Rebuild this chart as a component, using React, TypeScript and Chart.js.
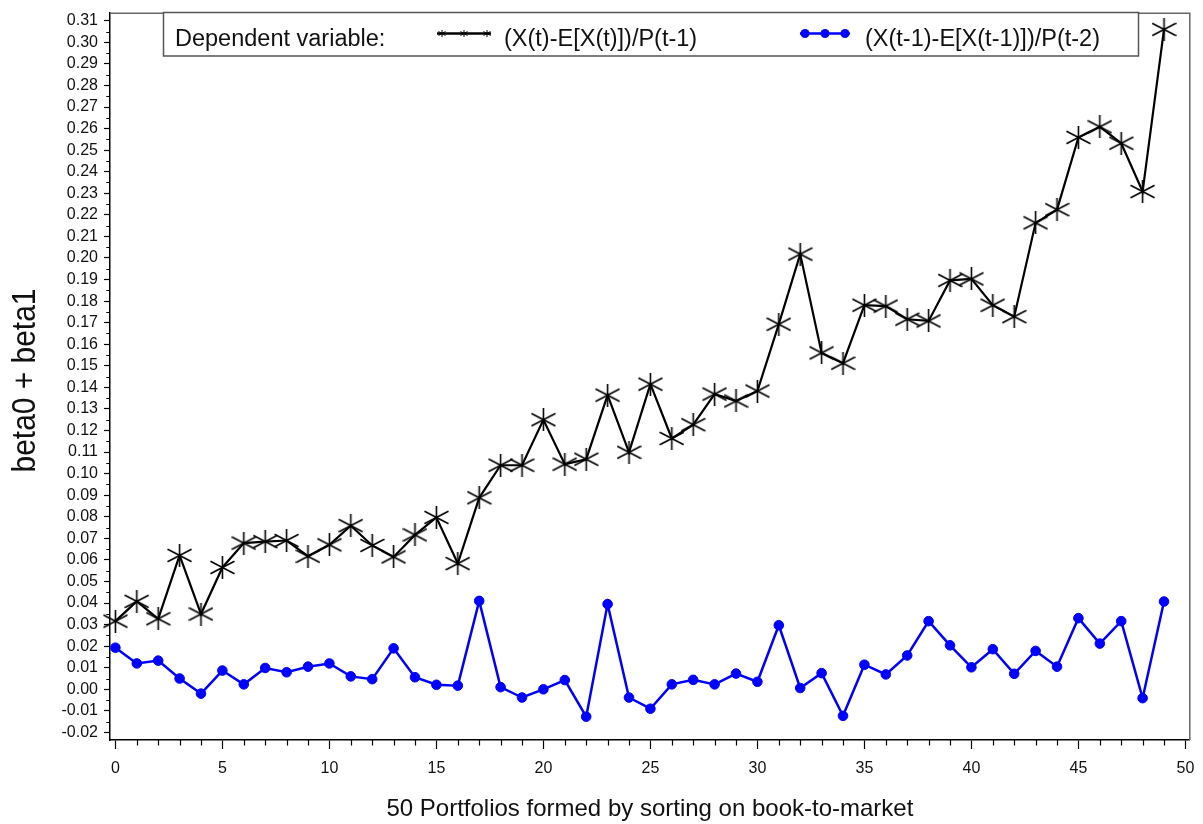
import React, { useEffect, useRef } from 'react';
import { Chart, registerables } from 'chart.js';

Chart.register(...registerables);

// 50 book-to-market portfolios
const portfolios = Array.from({ length: 50 }, (_, i) => i);

const currentLabel = '(X(t)-E[X(t)])/P(t-1)';
const laggedLabel = '(X(t-1)-E[X(t-1)])/P(t-2)';

const currentValues = [
  0.0316, 0.0408, 0.0327, 0.0621, 0.0349, 0.0565, 0.0678, 0.0685, 0.069, 0.0617,
  0.067, 0.0759, 0.0667, 0.0614, 0.0716, 0.0797, 0.0583, 0.0888, 0.1039, 0.1039,
  0.125, 0.1044, 0.1067, 0.1364, 0.1099, 0.1415, 0.1163, 0.1227, 0.1369, 0.1337,
  0.1383, 0.1693, 0.2018, 0.156, 0.1512, 0.1781, 0.1777, 0.1716, 0.1708, 0.1896,
  0.1903, 0.1781, 0.1728, 0.2163, 0.2224, 0.2559, 0.2608, 0.2532, 0.2308, 0.306,
];

const laggedValues = [
  0.0193, 0.012, 0.0133, 0.005, -0.002, 0.0087, 0.0023, 0.0099, 0.0079, 0.0105,
  0.012, 0.006, 0.0047, 0.019, 0.0056, 0.0021, 0.0017, 0.041, 0.001, -0.0038,
  0.0, 0.0043, -0.0127, 0.0395, -0.0038, -0.009, 0.0023, 0.0044, 0.0023, 0.0073,
  0.0035, 0.0297, 0.0006, 0.0075, -0.0123, 0.0114, 0.0069, 0.0157, 0.0316, 0.0204,
  0.0102, 0.0186, 0.0072, 0.0178, 0.0105, 0.033, 0.0212, 0.0316, -0.0041, 0.0407,
];

const xTicks = [0, 5, 10, 15, 20, 25, 30, 35, 40, 45, 50];
const yTicks = Array.from({ length: 34 }, (_, i) => Math.round((-0.02 + i * 0.01) * 100) / 100);

const xTitle = '50 Portfolios formed by sorting on book-to-market';
const yTitle = 'beta0 + beta1';
const legendTitle = 'Dependent variable:';

const FONT = '"Liberation Sans", Arial, Helvetica, sans-serif';

function makeAsterisk(w: number, h: number, lw: number) {
  const c = document.createElement('canvas');
  c.width = w;
  c.height = h;
  const ctx = c.getContext('2d')!;
  ctx.strokeStyle = '#000';
  ctx.lineWidth = lw;
  ctx.beginPath();
  ctx.moveTo(w / 2, 0);
  ctx.lineTo(w / 2, h);
  ctx.moveTo(0.5, h * 0.23);
  ctx.lineTo(w - 0.5, h * 0.77);
  ctx.moveTo(0.5, h * 0.77);
  ctx.lineTo(w - 0.5, h * 0.23);
  ctx.stroke();
  return c;
}

const App = () => {
  const chartRef = useRef<HTMLCanvasElement | null>(null);

  useEffect(() => {
    if (!chartRef.current) return;
    const star = makeAsterisk(25, 23, 1.6);

    const decorations = {
      id: 'decorations',
      beforeDatasetsDraw(chart: any) {
        const { ctx, chartArea: a } = chart;
        ctx.save();
        ctx.strokeStyle = '#666';
        ctx.lineWidth = 1.5;
        ctx.beginPath();
        ctx.moveTo(a.left, a.top);
        ctx.lineTo(a.right, a.top);
        ctx.lineTo(a.right, a.bottom);
        ctx.stroke();

        // minor ticks
        const xs = chart.scales.x;
        const ys = chart.scales.y;
        ctx.strokeStyle = '#000';
        ctx.lineWidth = 1.2;
        ctx.beginPath();
        for (let i = 0; i <= 50; i++) {
          if (i % 5 === 0) continue;
          const px = Math.round(xs.getPixelForValue(i)) + 0.5;
          ctx.moveTo(px, a.bottom);
          ctx.lineTo(px, a.bottom + 5.5);
        }
        for (let k = -3; k <= 61; k += 2) {
          const v = k * 0.005;
          if (v < ys.min || v > ys.max) continue;
          const py = Math.round(ys.getPixelForValue(v)) + 0.5;
          ctx.moveTo(a.left, py);
          ctx.lineTo(a.left - 3.7, py);
        }
        ctx.stroke();
        ctx.restore();
      },
      afterDraw(chart: any) {
        const { ctx, chartArea: a } = chart;
        ctx.save();
        ctx.fillStyle = '#111';

        // axis titles
        ctx.font = `24px ${FONT}`;
        ctx.textAlign = 'center';
        ctx.textBaseline = 'alphabetic';
        ctx.fillText(xTitle, (a.left + a.right) / 2, 816);

        ctx.save();
        ctx.translate(35, 380.5);
        ctx.rotate(-Math.PI / 2);
        ctx.scale(0.88, 1);
        ctx.font = `34px ${FONT}`;
        ctx.fillText(yTitle, 0, 0);
        ctx.restore();

        // legend box
        ctx.fillStyle = '#fff';
        ctx.fillRect(163, 12, 976, 44);
        ctx.strokeStyle = '#555';
        ctx.lineWidth = 1.5;
        ctx.strokeRect(163.5, 12.5, 975, 43.5);

        ctx.fillStyle = '#111';
        ctx.font = `23.5px ${FONT}`;
        ctx.textAlign = 'left';
        ctx.fillText(legendTitle, 175, 45.5);

        const ly = 33.5;
        ctx.strokeStyle = '#000';
        ctx.lineWidth = 2.7;
        ctx.beginPath();
        ctx.moveTo(437, ly);
        ctx.lineTo(491, ly);
        ctx.stroke();
        ctx.lineWidth = 1;
        [442, 464, 487].forEach((cx) => {
          ctx.beginPath();
          ctx.moveTo(cx, ly - 3.5);
          ctx.lineTo(cx, ly + 3.5);
          ctx.moveTo(cx - 3.5, ly - 2);
          ctx.lineTo(cx + 3.5, ly + 2);
          ctx.moveTo(cx - 3.5, ly + 2);
          ctx.lineTo(cx + 3.5, ly - 2);
          ctx.stroke();
        });
        ctx.fillText(currentLabel, 504, 45.5);

        ctx.strokeStyle = '#0000ff';
        ctx.fillStyle = '#0000ff';
        ctx.lineWidth = 2.5;
        ctx.beginPath();
        ctx.moveTo(800, ly);
        ctx.lineTo(850, ly);
        ctx.stroke();
        [805, 825, 845].forEach((cx) => {
          ctx.beginPath();
          ctx.arc(cx, ly, 4.5, 0, Math.PI * 2);
          ctx.fill();
        });
        ctx.fillStyle = '#111';
        ctx.fillText(laggedLabel, 865, 45.5);
        ctx.restore();
      },
    };

    const myChart = new Chart(chartRef.current, {
      type: 'line',
      data: {
        datasets: [
          {
            label: currentLabel,
            data: portfolios.map((p, i) => ({ x: p, y: currentValues[i] })),
            borderColor: '#000',
            borderWidth: 2.2,
            pointStyle: star as any,
            pointRadius: 11,
            clip: false as any,
          },
          {
            label: laggedLabel,
            data: portfolios.map((p, i) => ({ x: p, y: laggedValues[i] })),
            borderColor: '#0000ff',
            backgroundColor: '#0000ff',
            borderWidth: 2.5,
            pointBackgroundColor: '#0000ff',
            pointBorderColor: '#0000ff',
            pointRadius: 4.8,
            pointBorderWidth: 1,
            clip: false as any,
          },
        ],
      },
      options: {
        animation: false,
        responsive: true,
        maintainAspectRatio: false,
        layout: { padding: { top: 4, right: 10, left: 0, bottom: 0 } },
        plugins: { legend: { display: false }, tooltip: { enabled: false } },
        scales: {
          x: {
            type: 'linear',
            min: -0.252,
            max: 50.205,
            afterBuildTicks: (s: any) => {
              s.ticks = xTicks.map((value) => ({ value }));
            },
            afterFit: (s: any) => {
              s.height = 84;
              s.paddingLeft = 0;
              s.paddingRight = 0;
            },
            grid: { drawOnChartArea: false, tickLength: 9, color: '#000', tickWidth: 1.2 },
            border: { color: '#000', width: 1.5 },
            ticks: {
              autoSkip: false,
              maxRotation: 0,
              padding: 10,
              color: '#111',
              font: { family: FONT, size: 16 },
              callback: (v: any) => String(v),
            },
          },
          y: {
            type: 'linear',
            min: -0.0235,
            max: 0.3135,
            afterBuildTicks: (s: any) => {
              s.ticks = yTicks.map((value) => ({ value }));
            },
            afterFit: (s: any) => {
              s.width = 110;
              s.paddingTop = 0;
              s.paddingBottom = 0;
            },
            grid: { drawOnChartArea: false, tickLength: 6, color: '#000', tickWidth: 1.2 },
            border: { color: '#000', width: 1.5 },
            ticks: {
              autoSkip: false,
              padding: 6,
              color: '#111',
              font: { family: FONT, size: 16 },
              callback: (v: any) => Number(v).toFixed(2),
            },
          },
        },
      },
      plugins: [decorations],
    });

    return () => {
      myChart.destroy();
    };
  }, []);

  return (
    <div style={{ position: 'absolute', left: 0, top: 0, width: 1203, height: 824, background: '#fff' }}>
      <canvas ref={chartRef}></canvas>
    </div>
  );
};

export default App;
